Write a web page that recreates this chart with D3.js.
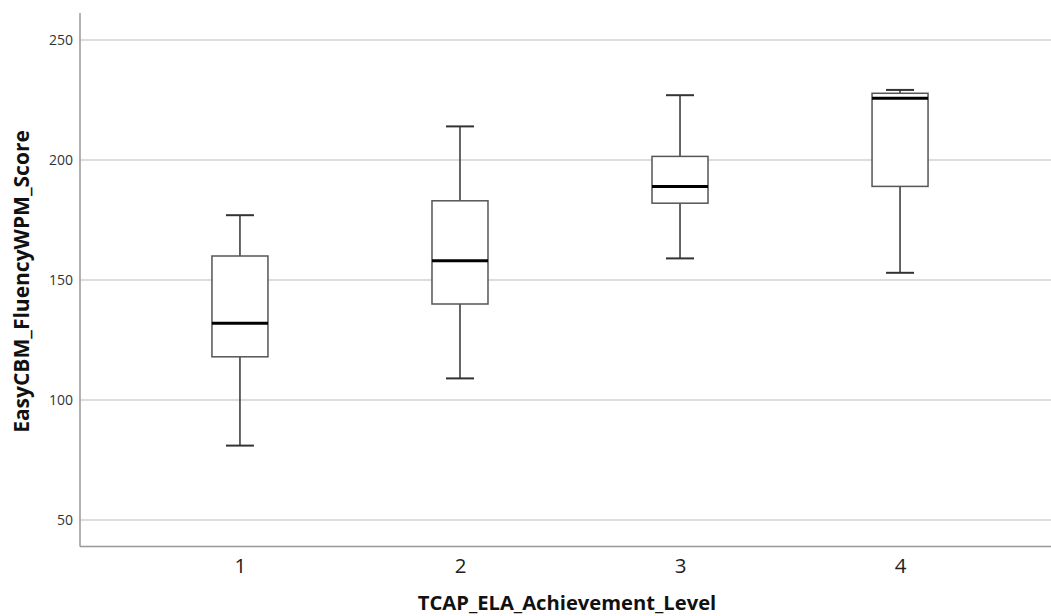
<!DOCTYPE html>
<html><head><meta charset="utf-8">
<script src="https://cdn.jsdelivr.net/npm/d3@7"></script>
<style>body{margin:0;background:#fff;}svg{display:block;}</style>
</head><body>
<svg id="chart" width="1051" height="616"></svg>
<script>
const categories = ["1", "2", "3", "4"];
const whiskerLow  = [81, 109, 159, 153];
const q1          = [118, 140, 182, 189];
const median      = [132, 158, 189, 225.7];
const q3          = [160, 183, 201.5, 227.8];
const whiskerHigh = [177, 214, 227, 229.2];
const yTicks = [50, 100, 150, 200, 250];

const data = categories.map((c, i) => ({c, lo: whiskerLow[i], q1: q1[i], med: median[i], q3: q3[i], hi: whiskerHigh[i]}));

const W = 1051, H = 616;
const mLeft = 80, mTop = 13, mBottom = 546.5, mRight = 1060;
const svg = d3.select("#chart");
const FONT = "Open Sans, DejaVu Sans, sans-serif";

const y = d3.scaleLinear().domain([38.96, 261.25]).range([mBottom, mTop]);
const x = d3.scalePoint().domain(categories).range([mLeft, mRight]).padding(0.727);

// grid
svg.append("g").selectAll("line").data(yTicks).join("line")
  .attr("x1", mLeft).attr("x2", W)
  .attr("y1", d => y(d)).attr("y2", d => y(d))
  .attr("stroke", "#d2d2d2").attr("stroke-width", 1.5);

// axes
const yAxis = svg.append("g").attr("transform", `translate(${mLeft},0)`)
  .call(d3.axisLeft(y).tickValues(yTicks).tickSize(0).tickPadding(7));
yAxis.select(".domain").remove();
yAxis.selectAll("text").attr("font-family", FONT).attr("font-size", 14).attr("fill", "#333");

const xAxis = svg.append("g").attr("transform", `translate(0,${mBottom})`)
  .call(d3.axisBottom(x).tickSize(0).tickPadding(11.5));
xAxis.select(".domain").remove();
xAxis.selectAll("text").attr("font-family", FONT).attr("font-size", 20.5).attr("fill", "#222");

svg.append("line").attr("x1", mLeft).attr("x2", mLeft).attr("y1", mTop).attr("y2", mBottom)
  .attr("stroke", "#999").attr("stroke-width", 1.5);
svg.append("line").attr("x1", mLeft).attr("x2", W).attr("y1", mBottom).attr("y2", mBottom)
  .attr("stroke", "#999").attr("stroke-width", 1.5);

// boxes
const boxW = 56, capW = 28;
const g = svg.append("g").selectAll("g").data(data).join("g")
  .attr("transform", d => `translate(${x(d.c)},0)`);
g.append("line").attr("x1", 0).attr("x2", 0).attr("y1", d => y(d.hi)).attr("y2", d => y(d.q3))
  .attr("stroke", "#333").attr("stroke-width", 1.5);
g.append("line").attr("x1", 0).attr("x2", 0).attr("y1", d => y(d.q1)).attr("y2", d => y(d.lo))
  .attr("stroke", "#333").attr("stroke-width", 1.5);
g.append("line").attr("x1", -capW/2).attr("x2", capW/2).attr("y1", d => y(d.hi)).attr("y2", d => y(d.hi))
  .attr("stroke", "#333").attr("stroke-width", 2);
g.append("line").attr("x1", -capW/2).attr("x2", capW/2).attr("y1", d => y(d.lo)).attr("y2", d => y(d.lo))
  .attr("stroke", "#333").attr("stroke-width", 2);
g.append("rect").attr("x", -boxW/2).attr("width", boxW)
  .attr("y", d => y(d.q3)).attr("height", d => y(d.q1) - y(d.q3))
  .attr("fill", "#fff").attr("stroke", "#555").attr("stroke-width", 1.5);
g.append("line").attr("x1", -boxW/2).attr("x2", boxW/2).attr("y1", d => y(d.med)).attr("y2", d => y(d.med))
  .attr("stroke", "#000").attr("stroke-width", 3);

// titles
svg.append("text").attr("x", 567).attr("y", 610)
  .attr("text-anchor", "middle").attr("font-family", FONT)
  .attr("font-weight", "bold").attr("font-size", 20.2).attr("fill", "#111")
  .text("TCAP_ELA_Achievement_Level");
svg.append("text").attr("transform", "translate(29,281.5) rotate(-90)")
  .attr("text-anchor", "middle").attr("font-family", FONT)
  .attr("font-weight", "bold").attr("font-size", 21).attr("fill", "#111")
  .text("EasyCBM_FluencyWPM_Score");
</script>
</body></html>
